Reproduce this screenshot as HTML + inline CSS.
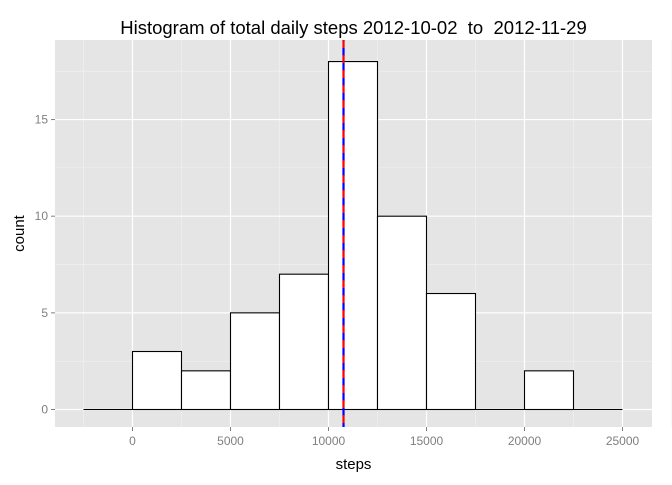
<!DOCTYPE html>
<html><head><meta charset="utf-8"><style>
body{margin:0;background:#fff;font-family:"Liberation Sans",sans-serif}
</style></head><body>
<svg id="c" width="672" height="480" xmlns="http://www.w3.org/2000/svg"></svg>
<script>
const binStarts=[-2500,0,2500,5000,7500,10000,12500,15000,17500,20000,22500];
const counts=[0,3,2,5,7,18,10,6,0,2,0];
const binWidth=2500;
const meanSteps=10766;
const xTicks=[0,5000,10000,15000,20000,25000];
const yTicks=[0,5,10,15];
const NS="http://www.w3.org/2000/svg";
const svg=document.getElementById('c');
const L=55,R=652,T=40,B=427;
const x=v=>132.5+(v/5000)*98;
const y=v=>409.5-v*19.33;
function mk(t,a,p){const e=document.createElementNS(NS,t);for(const k in a)e.setAttribute(k,a[k]);(p||svg).appendChild(e);return e;}
const panel=mk('rect',{x:L,y:T,width:R-L,height:B-T,fill:'#e5e5e5'});


for(let i=0;i<xTicks.length;i++){const v=xTicks[i]-2500;mk('line',{x1:x(v),x2:x(v),y1:T,y2:B,stroke:'#f2f2f2','stroke-width':0.6});}
mk('line',{x1:x(xTicks[xTicks.length-1]+2500),x2:x(xTicks[xTicks.length-1]+2500),y1:T,y2:B,stroke:'#f2f2f2','stroke-width':0.6});
for(const v of yTicks){mk('line',{x1:L,x2:R,y1:y(v+2.5),y2:y(v+2.5),stroke:'#f2f2f2','stroke-width':0.6});}
for(const v of xTicks)mk('line',{x1:x(v),x2:x(v),y1:T,y2:B,stroke:'#fff','stroke-width':1.2});
for(const v of yTicks)mk('line',{x1:L,x2:R,y1:y(v),y2:y(v),stroke:'#fff','stroke-width':1.2});
for(let i=0;i<binStarts.length;i++){
 const x0=x(binStarts[i]),x1=x(binStarts[i]+binWidth),y0=y(counts[i]);
 let r;
 if(counts[i]>0){
  r=mk('rect',{x:x0,y:y0,width:x1-x0,height:y(0)-y0,fill:'#fff',stroke:'#000','stroke-width':1.1});
 }else{
  r=mk('line',{x1:x0,x2:x1,y1:y(0),y2:y(0),stroke:'#000','stroke-width':1.1});
 }
 
 
}
const mx=x(meanSteps);
const ml=mk('line',{x1:mx,x2:mx,y1:T,y2:B,stroke:'#00f','stroke-width':2.2,'stroke-dasharray':'8,7','stroke-dashoffset':7});


const md=mk('line',{x1:mx,x2:mx,y1:T,y2:B,stroke:'#f00','stroke-width':2.2,'stroke-dasharray':'8,7'});


for(const v of xTicks){mk('line',{x1:x(v),x2:x(v),y1:B,y2:B+4,stroke:'#7f7f7f'});
 const t=mk('text',{x:x(v),y:B+18,'text-anchor':'middle','font-size':12,fill:'#7f7f7f'});t.textContent=v;
 
 }
for(const v of yTicks){mk('line',{x1:L-4,x2:L,y1:y(v),y2:y(v),stroke:'#7f7f7f'});
 const t=mk('text',{x:L-7,y:y(v)+4,'text-anchor':'end','font-size':12,fill:'#7f7f7f'});t.textContent=v;
 
 }
const xt=mk('text',{x:(L+R)/2,y:469,'text-anchor':'middle','font-size':15});xt.textContent='steps';


const yt=mk('text',{x:0,y:0,'text-anchor':'middle','font-size':15,transform:'translate(24,'+((T+B)/2)+') rotate(-90)'});yt.textContent='count';


const tt=mk('text',{x:(L+R)/2,y:34,'text-anchor':'middle','font-size':18.5});tt.textContent='Histogram of total daily steps 2012-10-02  to  2012-11-29';
tt.setAttribute('xml:space','preserve');tt.style.whiteSpace='pre';


</script>
</body></html>
